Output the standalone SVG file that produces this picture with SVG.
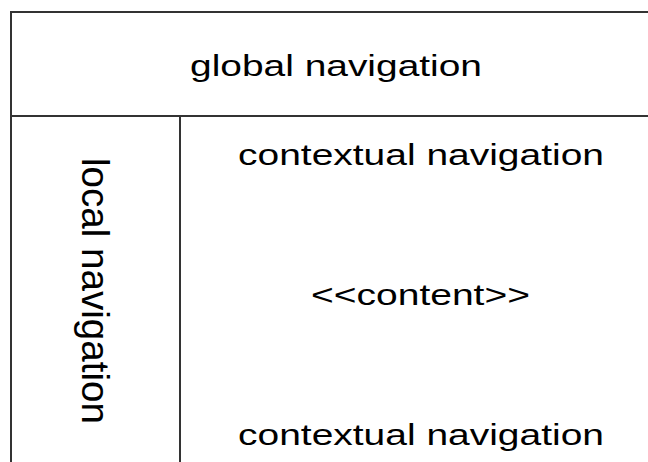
<svg xmlns="http://www.w3.org/2000/svg" width="648" height="462" viewBox="0 0 648 462">
<style>
.ln{stroke:#333;stroke-width:2;fill:none}
.t{font-family:"Liberation Sans",Arial,sans-serif;font-size:29px;fill:#000}
.r{font-family:"Liberation Sans",Arial,sans-serif;font-size:38px;fill:#000}
</style>
<rect x="0" y="0" width="648" height="462" fill="#fff"/>
<g id="connectors">
<path class="ln" d="M11,470 V12 H660"/>
<path class="ln" d="M11,116 H660"/>
<path class="ln" d="M180,116 V470"/>
</g>
<g id="global"><text class="t" x="190" y="76" textLength="292" lengthAdjust="spacingAndGlyphs">global navigation</text></g>
<g id="local"><text class="r" transform="translate(82,158) rotate(90)" x="0" y="0" textLength="266" lengthAdjust="spacingAndGlyphs">local navigation</text></g>
<g id="ctx-top"><text class="t" x="238" y="165" textLength="366" lengthAdjust="spacingAndGlyphs">contextual navigation</text></g>
<g id="content"><text class="t" x="311" y="305" textLength="219" lengthAdjust="spacingAndGlyphs">&lt;&lt;content&gt;&gt;</text></g>
<g id="ctx-bottom"><text class="t" x="238" y="445" textLength="366" lengthAdjust="spacingAndGlyphs">contextual navigation</text></g>
</svg>
